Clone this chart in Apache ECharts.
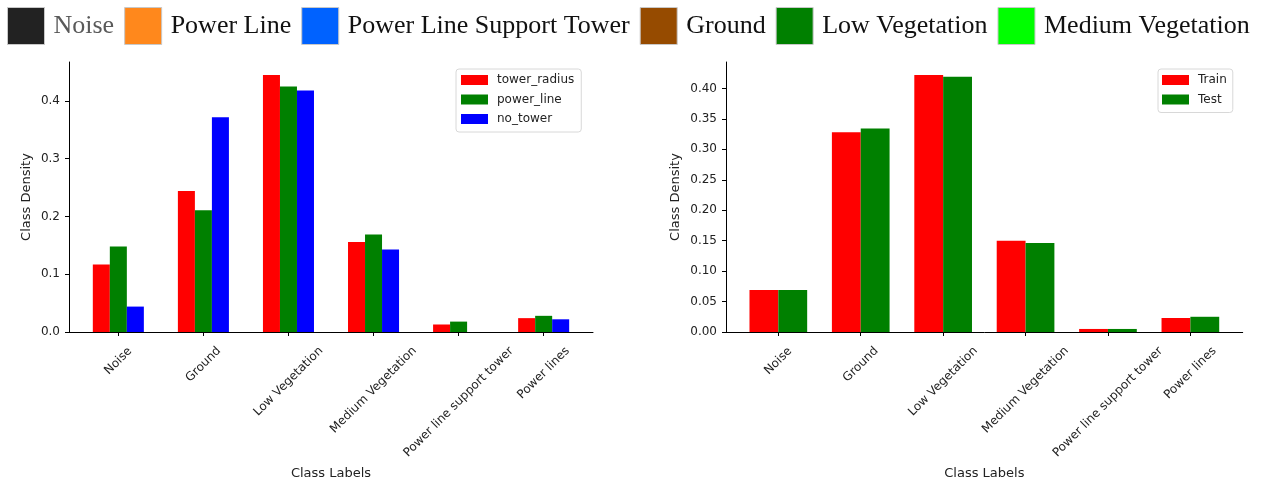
<!DOCTYPE html>
<html>
<head>
<meta charset="utf-8">
<script src="https://cdn.jsdelivr.net/npm/echarts@6/dist/echarts.min.js"></script>
<style>
  html, body { margin: 0; padding: 0; background: #fff; }
  #chart { width: 1268px; height: 487px; }
</style>
</head>
<body>
<div id="chart"></div>
<script>
// Class labels shared by both panels
const categories = ['Noise', 'Ground', 'Low Vegetation', 'Medium Vegetation', 'Power line support tower', 'Power lines'];

// Left panel: class density per sampling strategy
const towerRadius = [0.117, 0.244, 0.445, 0.156, 0.013, 0.024];
const powerLine   = [0.148, 0.211, 0.425, 0.169, 0.018, 0.028];
const noTower     = [0.044, 0.372, 0.418, 0.143, 0.000, 0.022];

// Right panel: class density of train / test splits
const trainDensity = [0.069, 0.328, 0.422, 0.150, 0.005, 0.023];
const testDensity  = [0.069, 0.334, 0.419, 0.146, 0.005, 0.025];

// Tick values
const leftTicks  = [0, 0.1, 0.2, 0.3, 0.4];
const rightTicks = [0, 0.05, 0.10, 0.15, 0.20, 0.25, 0.30, 0.35, 0.40];
const catTicks   = [0, 1, 2, 3, 4, 5];

// Colour key shown across the top
const classNames  = ['Noise', 'Power Line', 'Power Line Support Tower', 'Ground', 'Low Vegetation', 'Medium Vegetation'];
const classColors = ['#222222', '#ff881c', '#0062ff', '#964b00', '#008000', '#00ff00'];

const SANS = '"DejaVu Sans", sans-serif';
const SERIF = '"Liberation Serif", serif';
const INK = '#222';

// Rotated class labels are centred under their tick: pad each label in its own
// frame by half its width so the rotated text block hangs centred below the tick.
const measureCtx = document.createElement('canvas').getContext('2d');
measureCtx.font = '12px ' + SANS;
const labelRich = {};
categories.forEach((c, i) => {
  const p = Math.round(measureCtx.measureText(c).width * 0.5);
  labelRich['c' + i] = { padding: [p, p, 0, 0], fontSize: 12, fontFamily: SANS, color: INK };
});

function classAxis(gridIndex, min, max) {
  return {
    type: 'value', gridIndex, min, max,
    name: 'Class Labels', nameLocation: 'middle', nameGap: 135,
    nameTextStyle: { fontSize: 13, fontFamily: SANS, color: INK },
    splitLine: { show: false },
    axisLine: { show: true, onZero: false, lineStyle: { color: '#000', width: 1 } },
    axisTick: { show: true, customValues: catTicks, length: 4, lineStyle: { color: '#000' } },
    axisLabel: {
      customValues: catTicks, rotate: 45, align: 'center', verticalAlign: 'middle', margin: 17,
      showMinLabel: true, showMaxLabel: true,
      formatter: v => { const i = Math.round(v); return '{c' + i + '|' + categories[i] + '}'; },
      rich: labelRich
    }
  };
}

function densityAxis(gridIndex, max, ticks, digits, gap) {
  return {
    type: 'value', gridIndex, min: 0, max,
    name: 'Class Density', nameLocation: 'middle', nameGap: gap,
    nameTextStyle: { fontSize: 13, fontFamily: SANS, color: INK },
    splitLine: { show: false },
    axisLine: { show: true, onZero: false, lineStyle: { color: '#000', width: 1 } },
    axisTick: { show: true, customValues: ticks, length: 4, lineStyle: { color: '#000' } },
    axisLabel: {
      customValues: ticks, margin: 9, fontSize: 12, fontFamily: SANS, color: INK,
      formatter: v => v.toFixed(digits)
    }
  };
}

function barSeries(name, values, axisIndex, width, color) {
  return {
    type: 'bar', name, xAxisIndex: axisIndex, yAxisIndex: axisIndex,
    data: values.map((v, i) => [i, v]),
    barWidth: width, barGap: '0%',
    itemStyle: { color }
  };
}

// Empty series that only feed the colour key
const keySeries = classNames.map((n, i) => ({
  type: 'scatter', name: n, xAxisIndex: 0, yAxisIndex: 0, data: [],
  itemStyle: { color: classColors[i], opacity: 1 }
}));

const innerLegend = {
  orient: 'vertical', icon: 'rect', itemWidth: 27, itemHeight: 10, itemGap: 5.5,
  backgroundColor: '#fff', borderColor: '#d8d8d8', borderWidth: 1, borderRadius: 3,
  selectedMode: false,
  textStyle: { fontSize: 12, fontFamily: SANS, color: INK, lineHeight: 14, padding: [0, 0, 0, 4] }
};

const option = {
  animation: false,
  grid: [
    { left: 69, top: 62, width: 524, height: 270 },
    { left: 726, top: 62, width: 516.7, height: 270 }
  ],
  xAxis: [classAxis(0, -0.58, 5.58), classAxis(1, -0.635, 5.635)],
  yAxis: [densityAxis(0, 0.4675, leftTicks, 1, 36), densityAxis(1, 0.4434, rightTicks, 2, 44)],
  legend: [
    {
      data: classNames.map((n, i) => ({
        name: n,
        itemStyle: { color: classColors[i], opacity: 1, borderColor: '#c8c8c8', borderWidth: 1 },
        textStyle: i === 0 ? { color: '#5a5a5a' } : {}
      })),
      left: 2, top: 2, icon: 'rect', itemWidth: 37, itemHeight: 37, itemGap: 10,
      selectedMode: false,
      textStyle: { fontFamily: SERIF, fontSize: 26, color: '#111', padding: [0, 0, 0, 4] }
    },
    Object.assign({ data: ['tower_radius', 'power_line', 'no_tower'], left: 456, top: 69, padding: [4, 7, 6, 5] }, innerLegend),
    Object.assign({ data: ['Train', 'Test'], left: 1158, top: 69, padding: [4, 6, 6, 4] }, innerLegend)
  ],
  series: [
    barSeries('tower_radius', towerRadius, 0, '20%', '#ff0000'),
    barSeries('power_line', powerLine, 0, '20%', '#008000'),
    barSeries('no_tower', noTower, 0, '20%', '#0000ff'),
    barSeries('Train', trainDensity, 1, '35%', '#ff0000'),
    barSeries('Test', testDensity, 1, '35%', '#008000')
  ].concat(keySeries)
};

const chart = echarts.init(document.getElementById('chart'), null, { renderer: 'canvas' });
chart.setOption(option);
</script>
</body>
</html>
